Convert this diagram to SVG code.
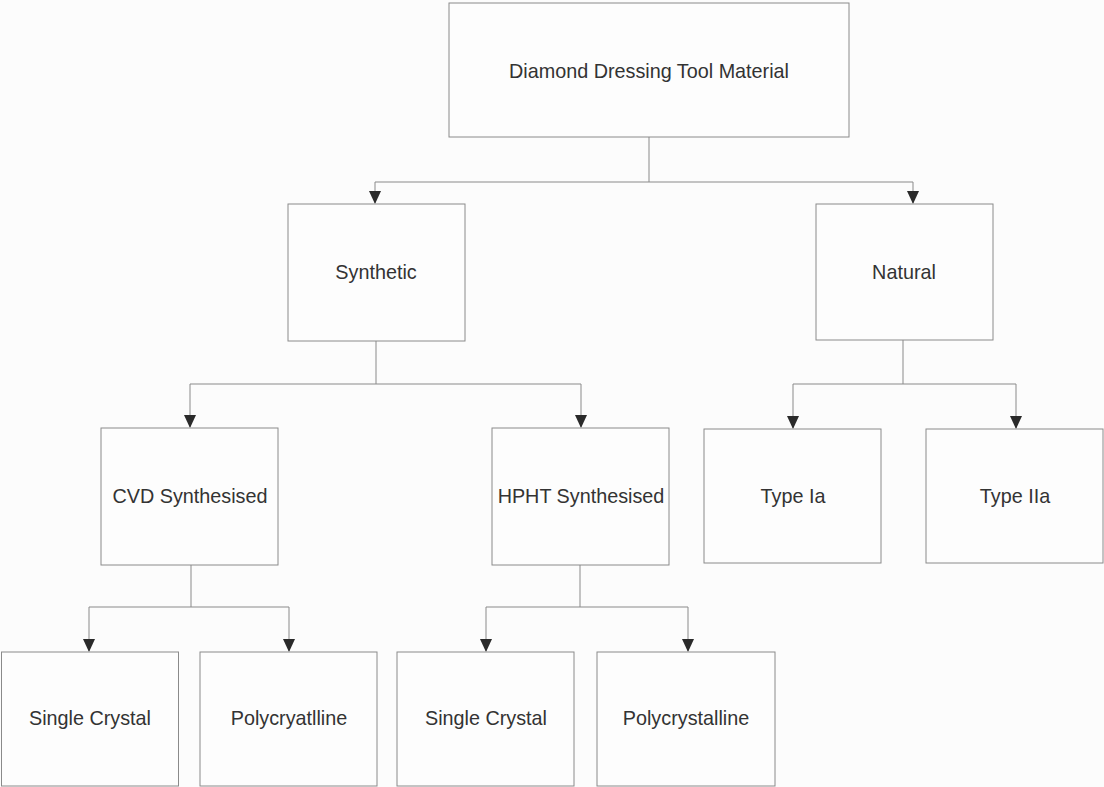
<svg xmlns="http://www.w3.org/2000/svg" width="1104" height="787" viewBox="0 0 1104 787">
<style>
.box{fill:#fdfdfd;stroke:#8a8a8a;stroke-width:1}
.lbl{font-family:"Liberation Sans",Arial,sans-serif;font-size:19.8px;fill:#333;text-anchor:middle;dominant-baseline:central}
.con{fill:none;stroke:#8a8a8a;stroke-width:1}
.arr{fill:#2a2a2a}
</style>
<rect width="1104" height="787" fill="#fcfcfc"/>
<g id="connectors">
<path class="con" d="M649,137 V182 H375 V203"/>
<path class="con" d="M649,182 H913 V203"/>
<path class="con" d="M376,341 V384 H190 V427"/>
<path class="con" d="M376,384 H581 V427"/>
<path class="con" d="M903,340 V384 H793 V428"/>
<path class="con" d="M903,384 H1016 V428"/>
<path class="con" d="M191,565 V607 H89 V651"/>
<path class="con" d="M191,607 H289 V651"/>
<path class="con" d="M580,565 V607 H486 V651"/>
<path class="con" d="M580,607 H688 V651"/>
<path class="arr" d="M369,191 H381 L375,204 Z"/>
<path class="arr" d="M907,191 H919 L913,204 Z"/>
<path class="arr" d="M184,415 H196 L190,428 Z"/>
<path class="arr" d="M575,415 H587 L581,428 Z"/>
<path class="arr" d="M787,416 H799 L793,429 Z"/>
<path class="arr" d="M1010,416 H1022 L1016,429 Z"/>
<path class="arr" d="M83,639 H95 L89,652 Z"/>
<path class="arr" d="M283,639 H295 L289,652 Z"/>
<path class="arr" d="M480,639 H492 L486,652 Z"/>
<path class="arr" d="M682,639 H694 L688,652 Z"/>
</g>
<g id="n-root"><rect class="box" x="449" y="3" width="400" height="134"/><text class="lbl" x="649" y="71">Diamond Dressing Tool Material</text></g>
<g id="n-synthetic"><rect class="box" x="288" y="204" width="177" height="137"/><text class="lbl" x="376" y="272">Synthetic</text></g>
<g id="n-natural"><rect class="box" x="816" y="204" width="177" height="136"/><text class="lbl" x="904" y="272">Natural</text></g>
<g id="n-cvd"><rect class="box" x="101" y="428" width="177" height="137"/><text class="lbl" x="190" y="496">CVD Synthesised</text></g>
<g id="n-hpht"><rect class="box" x="492" y="428" width="177" height="137"/><text class="lbl" x="581" y="496">HPHT Synthesised</text></g>
<g id="n-typeia"><rect class="box" x="704" y="429" width="177" height="134"/><text class="lbl" x="793" y="496">Type Ia</text></g>
<g id="n-typeiia"><rect class="box" x="926" y="429" width="177" height="134"/><text class="lbl" x="1015" y="496">Type IIa</text></g>
<g id="n-cvd-sc"><rect class="box" x="1.5" y="652" width="177" height="134"/><text class="lbl" x="90" y="718">Single Crystal</text></g>
<g id="n-cvd-pc"><rect class="box" x="200" y="652" width="177" height="134"/><text class="lbl" x="289" y="718">Polycryatlline</text></g>
<g id="n-hpht-sc"><rect class="box" x="397" y="652" width="177" height="134"/><text class="lbl" x="486" y="718">Single Crystal</text></g>
<g id="n-hpht-pc"><rect class="box" x="597" y="652" width="178" height="134"/><text class="lbl" x="686" y="718">Polycrystalline</text></g>
</svg>
